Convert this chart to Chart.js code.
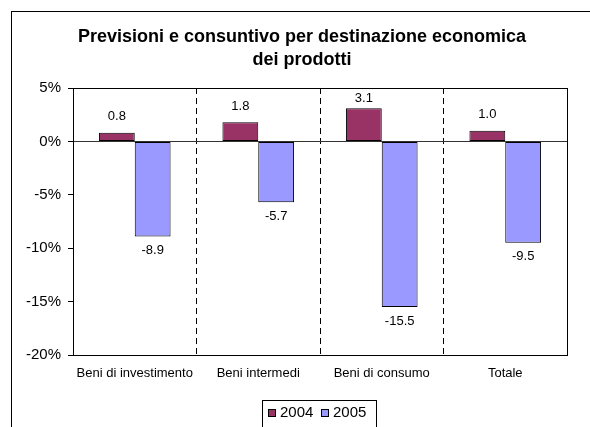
<!DOCTYPE html>
<html>
<head>
<meta charset="utf-8">
<script src="https://cdn.jsdelivr.net/npm/chart.js@4"></script>
<style>
    body { margin: 0; background: #fff; }
    #wrap { width: 590px; height: 427px; }
</style>
</head>
<body>
<div id="wrap"><canvas id="chart" width="590" height="427"></canvas></div>
<script>
// Chart data
const categories = ['Beni di investimento', 'Beni intermedi', 'Beni di consumo', 'Totale'];
const values2004 = [0.8, 1.8, 3.1, 1.0];
const values2005 = [-8.9, -5.7, -15.5, -9.5];
const yTicks = [-20, -15, -10, -5, 0, 5];
const titleLines = ['Previsioni e consuntivo per destinazione economica', 'dei prodotti'];

const FONT = '"Liberation Sans", Arial, sans-serif';
const COLOR_2004 = '#993366';
const COLOR_2005 = '#9999FF';

// Outer frame, title, plot frame
const framePlugin = {
    id: 'frame',
    afterDraw(chart) {
        const ctx = chart.ctx;
        const area = chart.chartArea;
        ctx.save();
        ctx.strokeStyle = '#000';
        ctx.lineWidth = 1;
        ctx.strokeRect(11.5, 11.5, 600, 500);
        ctx.strokeRect(Math.round(area.left) + 0.5, Math.round(area.top) + 0.5,
            Math.round(area.right - area.left), Math.round(area.bottom - area.top));

        // Title
        ctx.fillStyle = '#000';
        ctx.font = 'bold 18px ' + FONT;
        ctx.textAlign = 'center';
        ctx.textBaseline = 'middle';
        titleLines.forEach((line, i) => {
            ctx.fillText(line, 302, 37 + i * 23);
        });
        ctx.restore();
    }
};

// Value labels above/below bars
const labelPlugin = {
    id: 'valueLabels',
    afterDatasetsDraw(chart) {
        const ctx = chart.ctx;
        const area = chart.chartArea;
        ctx.save();
        ctx.fillStyle = '#000';
        ctx.font = '13px ' + FONT;
        ctx.textAlign = 'center';
        ctx.textBaseline = 'middle';
        chart.data.datasets.forEach((ds, i) => {
            chart.getDatasetMeta(i).data.forEach((bar, j) => {
                const v = ds.data[j];
                let y = v >= 0 ? bar.y - 16 : bar.y + 14;
                // keep labels inside the plot area
                y = Math.max(y, area.top + 10);
                ctx.fillText(v.toFixed(1), bar.x, y);
            });
        });
        ctx.restore();
    }
};

// Boxed legend at the bottom
const legendPlugin = {
    id: 'boxLegend',
    afterDraw(chart) {
        const ctx = chart.ctx;
        ctx.save();
        ctx.strokeStyle = '#000';
        ctx.lineWidth = 1;
        ctx.strokeRect(262.5, 400.5, 114, 40);
        ctx.font = '15px ' + FONT;
        ctx.textBaseline = 'middle';
        const items = [
            { label: chart.data.datasets[0].label, color: COLOR_2004, x: 268 },
            { label: chart.data.datasets[1].label, color: COLOR_2005, x: 321 }
        ];
        items.forEach(item => {
            ctx.fillStyle = item.color;
            ctx.fillRect(item.x, 409, 8, 8);
            ctx.strokeRect(item.x + 0.5, 409.5, 7, 7);
            ctx.fillStyle = '#000';
            ctx.fillText(item.label, item.x + 12, 413);
        });
        ctx.restore();
    }
};

new Chart(document.getElementById('chart'), {
    type: 'bar',
    data: {
        labels: categories,
        datasets: [
            {
                label: '2004',
                data: values2004,
                backgroundColor: COLOR_2004,
                borderColor: '#000',
                borderWidth: 1,
                borderSkipped: false,
                categoryPercentage: 0.58,
                barPercentage: 1
            },
            {
                label: '2005',
                data: values2005,
                backgroundColor: COLOR_2005,
                borderColor: '#000',
                borderWidth: 1,
                borderSkipped: false,
                categoryPercentage: 0.58,
                barPercentage: 1
            }
        ]
    },
    options: {
        responsive: false,
        animation: false,
        layout: {
            padding: { left: 12, top: 88, right: 23, bottom: 42 }
        },
        plugins: {
            legend: { display: false },
            title: { display: false },
            tooltip: { enabled: false }
        },
        scales: {
            x: {
                grid: {
                    offset: true,
                    color: '#000',
                    drawTicks: false
                },
                border: { display: true, color: '#000', dash: [6, 4] },
                ticks: {
                    color: '#000',
                    padding: 11,
                    font: { family: FONT, size: 13 }
                },
                afterFit(scale) { scale.height = 30; }
            },
            y: {
                min: yTicks[0],
                max: yTicks[yTicks.length - 1],
                afterBuildTicks(scale) {
                    scale.ticks = yTicks.map(v => ({ value: v }));
                },
                grid: {
                    color: ctx => (ctx.tick && ctx.tick.value === 0 ? '#333' : 'rgba(0,0,0,0)'),
                    tickColor: '#000',
                    tickLength: 5
                },
                border: { display: true, color: '#000' },
                ticks: {
                    color: '#000',
                    padding: 7,
                    font: { family: FONT, size: 15 },
                    callback: v => v + '%'
                },
                afterFit(scale) { scale.width = 61; }
            }
        }
    },
    plugins: [framePlugin, labelPlugin, legendPlugin]
});
</script>
</body>
</html>
